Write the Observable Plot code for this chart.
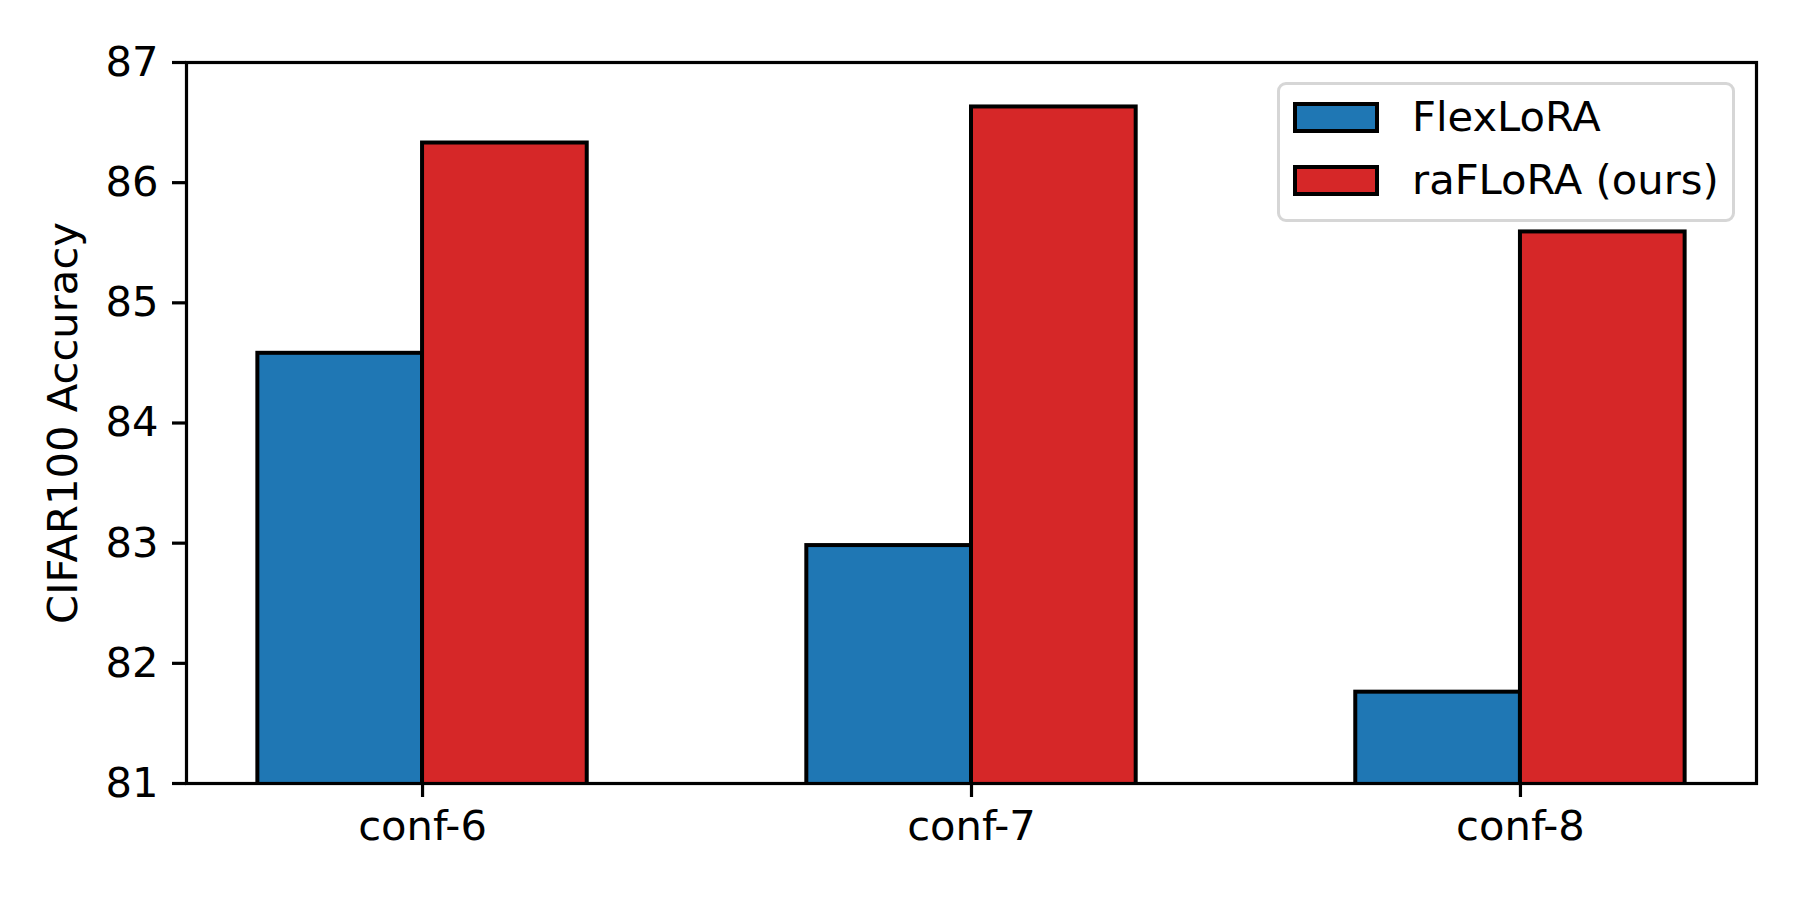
<!DOCTYPE html>
<html>
<head>
<meta charset="utf-8">
<script src="https://cdn.jsdelivr.net/npm/d3@7"></script>
<script src="https://cdn.jsdelivr.net/npm/@observablehq/plot@0.6"></script>
<style>
  html, body { margin: 0; padding: 0; background: white; }
  #wrap { position: relative; width: 1800px; height: 900px; font-family: "DejaVu Sans", sans-serif; }
  #legend {
    position: absolute; left: 1277px; top: 82px; width: 452px; height: 134px;
    border: 3.2px solid #d6d6d6; border-radius: 9px; background: rgba(255,255,255,0.8);
    box-sizing: content-box;
  }
  .item { position: absolute; left: 13px; display: flex; align-items: center; }
  .sw { width: 78px; height: 23px; border: 4px solid black; box-sizing: content-box; }
  .lab { position: absolute; left: 132px; font-size: 41.67px; line-height: 42px; white-space: nowrap; color: black; }
</style>
</head>
<body>
<div id="wrap"></div>
<script>
const categories = ["conf-6", "conf-7", "conf-8"];
const seriesNames = ["FlexLoRA", "raFLoRA (ours)"];
const seriesColors = ["#1f77b4", "#d62728"];
const flexLoRA = [84.58, 82.98, 81.76];
const raFLoRA = [86.33, 86.63, 85.59];
const yTicks = [81, 82, 83, 84, 85, 86, 87];
const yDomain = [81, 87];
const yLabel = "CIFAR100 Accuracy";

const barWidth = 0.3;
const rows = [];
[flexLoRA, raFLoRA].forEach((vals, s) => {
  vals.forEach((v, i) => {
    const off = (s - 0.5) * barWidth;
    rows.push({cat: i, series: seriesNames[s], color: seriesColors[s], x1: i + off - barWidth / 2, x2: i + off + barWidth / 2, value: v});
  });
});

const FS = 41.67;
const chart = Plot.plot({
  width: 1800,
  height: 900,
  marginLeft: 186,
  marginRight: 44,
  marginTop: 62,
  marginBottom: 117,
  style: {fontFamily: "DejaVu Sans", fontSize: FS + "px", color: "black", background: "white"},
  x: {domain: [-0.43, 2.43]},
  y: {domain: yDomain},
  marks: [
    Plot.rect(rows, {x1: "x1", x2: "x2", y1: 0, y2: "value", fill: "color", stroke: "black", strokeWidth: 4, clip: true}),
    Plot.frame({stroke: "black", strokeWidth: 3.2}),
    Plot.axisY({ticks: yTicks, tickSize: 14, tickPadding: 14, strokeWidth: 3.2, label: null, fontSize: FS, tickFormat: d => String(d)}),
    Plot.axisX({ticks: categories.map((c, i) => i), tickFormat: i => categories[i], tickSize: 14, tickPadding: 13, strokeWidth: 3.2, label: null, fontSize: FS}),
    Plot.text([yLabel], {text: d => d, frameAnchor: "left", textAnchor: "middle", rotate: -90, dx: -123, fontSize: FS})
  ]
});

const wrap = document.getElementById("wrap");
wrap.appendChild(chart);

const legend = document.createElement("div");
legend.id = "legend";
seriesNames.forEach((name, s) => {
  const item = document.createElement("div");
  item.className = "item";
  item.style.top = (17 + s * 63) + "px";
  const sw = document.createElement("div");
  sw.className = "sw";
  sw.style.background = seriesColors[s];
  item.appendChild(sw);
  legend.appendChild(item);
  const lab = document.createElement("div");
  lab.className = "lab";
  lab.style.top = (11 + s * 63) + "px";
  lab.textContent = name;
  legend.appendChild(lab);
});
wrap.appendChild(legend);
</script>
</body>
</html>
